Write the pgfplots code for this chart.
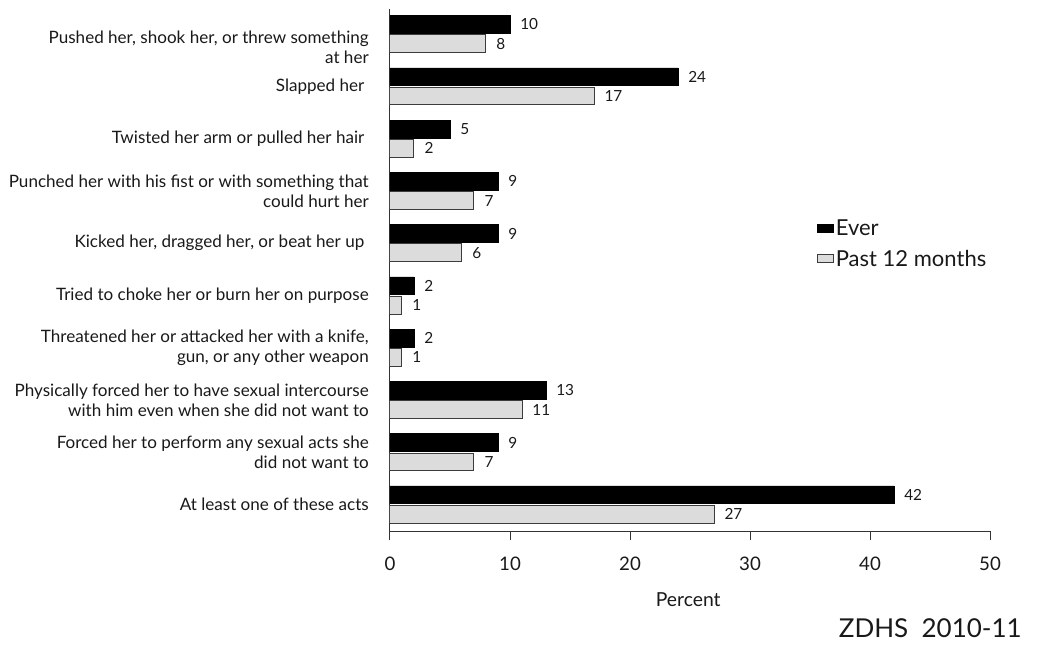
\documentclass[border=0pt]{standalone}
\usepackage{fontspec}
\setmainfont{Lato}
\usepackage{pgfplots}
\pgfplotsset{compat=1.18}
\definecolor{lightgrey}{HTML}{DCDCDC}
\definecolor{edgegrey}{HTML}{3C3C3C}
\begin{document}
\begin{tikzpicture}
\useasboundingbox (0pt,0pt) rectangle (789.75pt,483.75pt);
\begin{axis}[
  at={(292.5pt,85.125pt)}, anchor=south west,
  scale only axis, width=450pt, height=391.65pt,
  xbar, bar width=0.34,
  xmin=0, xmax=50, ymin=-0.516, ymax=9.476,
  axis x line*=bottom, axis y line*=left,
  axis line style={line width=0.75pt, black!80},
  xtick={0,10,20,30,40,50},
  tick align=outside, major tick length=6.75pt,
  xtick style={line width=0.75pt, black!80},
  ytick={0,...,8},
  ytick style={draw=none},
  yticklabels={
    {At least one of these acts},
    {Forced her to perform any sexual acts she\ \\did not want to\ },
    {Physically forced her to have sexual intercourse\\with him even when she did not want to},
    {Threatened her or attacked her with a knife,\ \\gun, or any other weapon\ },
    {Tried to choke her or burn her on purpose},
    {Kicked her, dragged her, or beat her up\ },
    {Punched her with his fist or with something that\\could hurt her},
    {Twisted her arm or pulled her hair\ },
    {Slapped her\ }},
  extra y ticks={9},
  extra y tick labels={Pushed her{,} shook her{,} or threw something\\at her\ },
  extra y tick style={ytick style={draw=none}, yticklabel style={yshift=-9.75pt}},
  yticklabel style={font=\fontsize{12.8}{15}\selectfont, align=right, inner sep=0pt, text=black!90},
  yticklabel shift=9pt,
  xticklabel style={font=\fontsize{14}{16}\selectfont, inner sep=0pt, text=black!90},
  xticklabel shift=12pt,
  /pgf/number format/assume math mode=true,
  xlabel={Percent},
  xlabel style={at={(axis description cs:0.497,-0.131)}, anchor=center, font=\fontsize{14.5}{16}\selectfont, text=black!90},
  legend style={at={(axis description cs:0.711,0.602)}, anchor=north west, draw=none, fill=none,
    font=\fontsize{16.5}{18}\selectfont, text=black!90, row sep=6.5pt, inner sep=0pt,
    nodes={inner sep=1.5pt}},
  legend cell align=left,
  nodes near coords, nodes near coords align=horizontal,
  every node near coord/.append style={font=\fontsize{11.5}{13}\selectfont, inner sep=0pt, xshift=7.5pt, text=black!90},
]
\addplot[fill=black, draw=black, bar shift=0.185,
  legend image code/.code={\draw[fill=black,draw=black] (0pt,-3pt) rectangle (12pt,3pt);}]
  coordinates {(42,0) (9,1) (13,2) (2,3) (2,4) (9,5) (9,6) (5,7) (24,8) (10,9)};
\addplot[fill=lightgrey, draw=edgegrey, line width=0.75pt, bar shift=-0.185,
  legend image code/.code={\draw[fill=lightgrey,draw=edgegrey,line width=0.75pt] (0pt,-3pt) rectangle (12pt,3pt);}]
  coordinates {(27,0) (7,1) (11,2) (1,3) (1,4) (6,5) (7,6) (2,7) (17,8) (8,9)};
\legend{Ever, Past 12 months}
\end{axis}
\node[anchor=east, inner sep=0pt, font=\fontsize{19.5}{22}\selectfont, text=black!90] at (766.5pt,12.75pt) {ZDHS\ \ 2010-11};
\end{tikzpicture}
\end{document}
